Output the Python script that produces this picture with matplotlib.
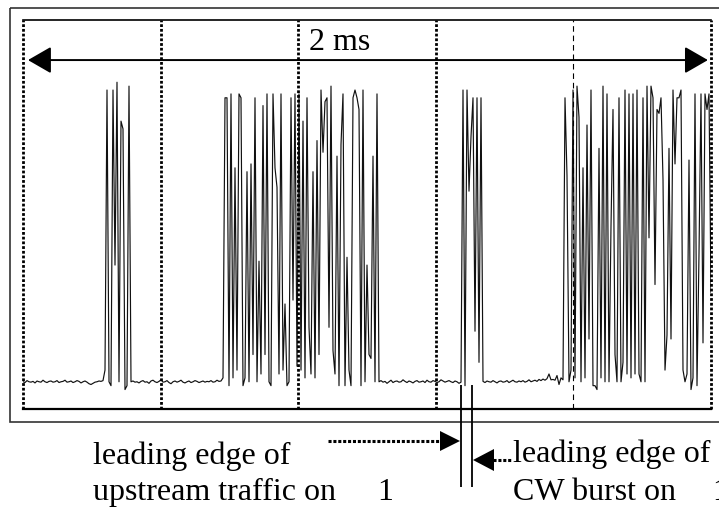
import numpy as np
import matplotlib
matplotlib.use('Agg')
import matplotlib.pyplot as plt
from matplotlib.patches import Polygon, Rectangle

plt.rcParams['font.family'] = ['Liberation Serif', 'DejaVu Serif']

# scope trace, % of screen height, one sample every SAMPLE_MS
SAMPLE_MS = 2.0 / 344
baseline_a = [7.0, 6.8, 7.3, 7.0, 6.9, 7.1, 6.7, 7.2, 7.0, 6.9,
              7.4, 7.0, 6.8, 7.1, 7.2, 6.9, 7.0, 7.3, 6.8, 7.0,
              7.1, 7.4, 6.9, 7.0, 7.2, 6.8, 7.0, 7.3, 7.1, 6.7,
              7.0, 7.2, 6.9, 6.5, 6.3, 6.6, 6.9, 7.0, 7.2, 7.1,
              7.3]
burst_1 = [10, 82, 7, 6, 82, 37, 84, 7, 74, 72, 5, 6, 83, 7]
baseline_b = [7.2, 6.9, 7.0, 6.7, 7.1, 7.3, 6.9, 7.0, 6.6, 7.2,
              7.4, 7.0, 6.8, 7.1, 7.5, 6.9, 7.0, 7.3, 6.8, 6.5,
              7.0, 7.2, 6.9, 7.1, 7.4, 6.9, 6.7, 7.0, 7.2, 6.8,
              7.0, 7.3, 7.1, 6.8, 7.0, 7.2, 6.9, 7.1, 7.0, 7.3,
              6.9, 7.0, 7.4, 7.1, 7.2]
burst_2 = [8, 80, 80, 6, 81, 8, 62, 10, 81, 80,
           6, 8, 61, 7, 63, 14, 80, 7, 38, 9,
           78, 14, 81, 7, 6, 81, 62, 57, 9, 81,
           10, 27, 6, 7, 80, 28, 81, 11, 81, 10,
           74, 8, 80, 21, 9, 61, 8, 69, 14, 82,
           66, 79, 80, 21, 83, 15, 9, 65, 6, 68,
           81, 6, 39, 10, 6, 80, 82, 80, 77, 6,
           82, 7, 37, 14, 13, 65, 7, 81]
baseline_c = [7.0, 7.3, 6.9, 7.1, 6.6, 7.0, 7.4, 6.8, 7.1, 7.2,
              6.9, 7.0, 7.5, 7.1, 6.8, 7.2, 7.0, 6.7, 7.1, 7.3,
              6.9, 7.0, 7.2, 6.8, 7.4, 7.0, 6.9, 7.3, 7.1, 6.8,
              7.0, 7.5, 7.2, 6.9, 7.1, 7.3, 7.0, 6.8, 7.2, 7.0,
              6.6, 6.9]
burst_3 = [82, 6, 82, 56, 70, 80, 20, 80, 12, 80]
baseline_d = [7.1, 6.8, 7.2, 7.0, 6.9, 7.3, 7.0, 6.7, 7.1, 7.2,
              6.9, 7.0, 7.3, 6.8, 7.1, 7.4, 7.0, 6.9, 7.2, 7.0,
              7.3, 6.9, 7.1, 7.5, 7.0, 7.2, 7.4, 7.1, 7.6, 7.3,
              7.7, 7.4, 7.8, 9.0, 7.5, 7.6, 7.4, 8.6, 6.3, 8.0,
              7.5]
burst_4 = [80, 60, 7, 10, 82, 8, 83, 75, 7, 62,
           8, 73, 18, 82, 6, 6, 5, 67, 8, 83,
           7, 81, 7, 47, 77, 14, 7, 80, 7, 12,
           82, 9, 81, 8, 81, 9, 82, 9, 7, 80,
           7, 83, 44, 83, 80, 32, 77, 76, 80, 59,
           10, 19, 67, 18, 82, 63, 80, 80, 82, 10,
           7, 9, 64, 5, 8, 81, 6, 40, 81, 17,
           81, 77, 81, 30]

grid_ms = [0.0, 0.4, 0.8, 1.2, 2.0]
grid_thin_ms = [1.6]
span_label = '2 ms'
leading_edges_ms = [1.273, 1.304]

trace = np.concatenate([baseline_a, burst_1, baseline_b, burst_2,
                        baseline_c, burst_3, baseline_d, burst_4])
t = np.arange(len(trace)) * SAMPLE_MS

W, H = 719, 513
fig = plt.figure(figsize=(W / 100, H / 100), dpi=100)

# overlay in pixel coords for the frame and the notes below the screen
ov = fig.add_axes([0, 0, 1, 1], zorder=0)
ov.set_xlim(0, W)
ov.set_ylim(H, 0)
ov.axis('off')
ov.add_patch(Rectangle((10, 8), 730, 413.5, fill=False, lw=1.2, ec='#333333'))

ax = fig.add_axes([23 / W, (H - 409) / H, 688 / W, 389 / H], zorder=1)
ax.set_facecolor('none')
ax.plot(t, trace, color='#111111', lw=0.85)
ax.set_xlim(0, 2)
ax.set_ylim(0, 100)
ax.set_xticks([])
ax.set_yticks([])
ax.spines['left'].set_visible(False)
ax.spines['right'].set_visible(False)
ax.spines['top'].set_linewidth(1.2)
ax.spines['bottom'].set_linewidth(1.6)

for g in grid_ms:
    ax.axvline(g, color='black', lw=2.0, ls=(0, (1, 0.7)), clip_on=False)
for g in grid_thin_ms:
    ax.axvline(g, color='black', lw=0.8, ls=(0, (5, 3.5)))

ax.annotate('', xy=(1.991, 89.7), xytext=(0.0145, 89.7),
            arrowprops=dict(arrowstyle='<|-|>,head_length=1.44,head_width=0.83',
                            mutation_scale=10, lw=1.4, color='black',
                            shrinkA=0, shrinkB=0))
ax.text(0.92, 92.3, span_label, fontsize=23, ha='center', va='baseline')

ax.vlines(leading_edges_ms, 6.2, -20.0, color='black', lw=1.3, clip_on=False)

# dotted pointers to the leading edges
ov.plot([328, 441], [441, 441], color='black', lw=2.2, ls=(0, (1, 0.6)))
ov.add_patch(Polygon([(460, 441), (440, 431), (440, 451)], closed=True,
                     color='black', lw=0))
ov.plot([493, 512], [460, 460], color='black', lw=2.2, ls=(0, (1, 0.6)))
ov.add_patch(Polygon([(473, 460), (494, 449), (494, 471)], closed=True,
                     color='black', lw=0))

fs = 23
ov.text(93, 464, 'leading edge of', fontsize=fs, va='baseline')
ov.text(93, 500, 'upstream traffic on', fontsize=fs, va='baseline')
ov.text(377, 500, '1', fontsize=fs, va='baseline')
ov.text(513, 462, 'leading edge of', fontsize=fs, va='baseline')
ov.text(513, 500, 'CW burst on', fontsize=fs, va='baseline')
ov.text(712, 500, '1', fontsize=fs, va='baseline')

fig.savefig('out.png', dpi=100)
